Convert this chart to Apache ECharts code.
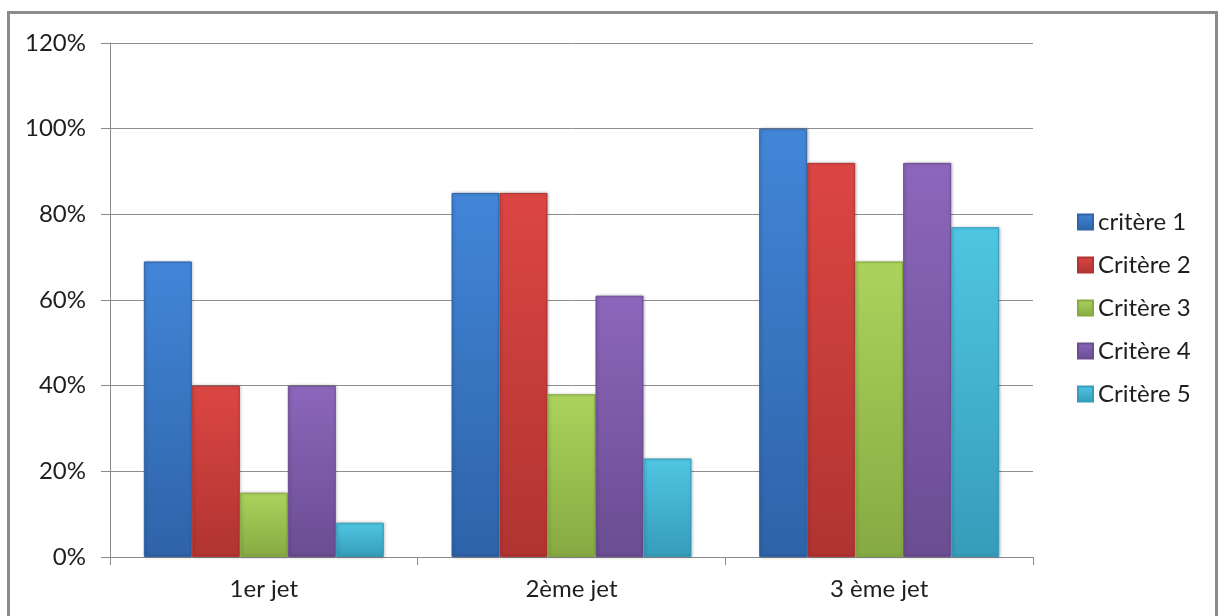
<!DOCTYPE html>
<html>
<head>
<meta charset="utf-8">
<script src="https://cdn.jsdelivr.net/npm/echarts@6/dist/echarts.min.js"></script>
<style>
html,body{margin:0;padding:0;background:#fff;}
#frame{position:absolute;left:7px;top:11px;width:1211px;height:640px;border:3px solid #8c8c8c;box-sizing:border-box;pointer-events:none;}
#chart{position:absolute;left:0;top:0;width:1223px;height:616px;}
</style>
</head>
<body>
<div id="chart"></div>
<div id="frame"></div>
<script>
const categories = ['1er jet', '2ème jet', '3 ème jet'];
const seriesNames = ['critère 1', 'Critère 2', 'Critère 3', 'Critère 4', 'Critère 5'];
const critere1 = [69, 85, 100];
const critere2 = [40, 85, 92];
const critere3 = [15, 38, 69];
const critere4 = [40, 61, 92];
const critere5 = [8, 23, 77];
const yTicks = [0, 20, 40, 60, 80, 100, 120];

const seriesData = [critere1, critere2, critere3, critere4, critere5];
const colorPairs = [
  ['#4286d8', '#2e63a8'],
  ['#dc4643', '#b03431'],
  ['#abd35c', '#86aa42'],
  ['#8c66bb', '#6a4d92'],
  ['#4fc6e2', '#369cba']
];

const chart = echarts.init(document.getElementById('chart'), null, {renderer: 'canvas'});
const font = 'Lato, "Open Sans", sans-serif';

chart.setOption({
  animation: false,
  backgroundColor: '#ffffff',
  grid: {left: 110, right: 190, top: 43, bottom: 59, containLabel: false},
  legend: {
    orient: 'vertical',
    left: 1077,
    top: 210,
    padding: 0,
    itemWidth: 15,
    itemHeight: 15,
    itemGap: 19,
    itemTextGap: 5,
    icon: 'rect',
    textStyle: {fontFamily: font, fontSize: 24, color: '#1e1e1e', lineHeight: 24},
    data: seriesNames
  },
  xAxis: {
    type: 'category',
    data: categories,
    axisLine: {lineStyle: {color: '#8a8a8a', width: 1}},
    axisTick: {show: true, length: 8, alignWithLabel: false, lineStyle: {color: '#8a8a8a'}},
    axisLabel: {fontFamily: font, fontSize: 24, color: '#1e1e1e', margin: 20}
  },
  yAxis: {
    type: 'value',
    min: yTicks[0],
    max: yTicks[yTicks.length - 1],
    interval: 20,
    axisLine: {show: true, lineStyle: {color: '#8a8a8a', width: 1}},
    axisTick: {show: true, length: 9, lineStyle: {color: '#8a8a8a'}},
    splitLine: {show: true, lineStyle: {color: '#8e8e8e', width: 1}},
    axisLabel: {fontFamily: font, fontSize: 24, color: '#1e1e1e', margin: 24, formatter: '{value}%'}
  },
  series: seriesNames.map((name, i) => ({
    name: name,
    type: 'bar',
    data: seriesData[i],
    barGap: '0%',
    barCategoryGap: '22%',
    itemStyle: {
      color: new echarts.graphic.LinearGradient(0, 0, 0, 1, [
        {offset: 0, color: colorPairs[i][0]},
        {offset: 1, color: colorPairs[i][1]}
      ]),
      borderColor: colorPairs[i][1],
      borderWidth: 1,
      shadowColor: 'rgba(0,0,0,0.25)',
      shadowBlur: 3,
      shadowOffsetX: 1,
      shadowOffsetY: 0
    }
  }))
});
</script>
</body>
</html>
